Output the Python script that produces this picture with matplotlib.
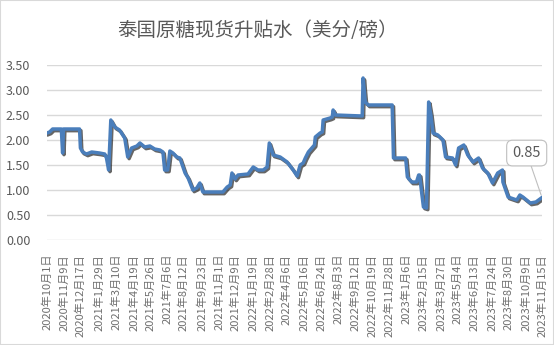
import numpy as np
import pandas as pd
import matplotlib
matplotlib.use("Agg")
import matplotlib.pyplot as plt
import matplotlib.patheffects as pe
from matplotlib.patches import Rectangle

plt.rcParams['font.family'] = ['Noto Sans CJK SC', 'DejaVu Sans']

# readings of the premium line (US cents / lb)
dates = [
    "2020-10-01", "2020-10-07", "2020-10-14", "2020-11-03", "2020-11-06", "2020-11-08",
    "2020-12-15", "2020-12-17", "2020-12-22", "2020-12-31", "2021-01-12", "2021-01-30",
    "2021-02-11", "2021-02-15", "2021-02-20", "2021-02-25", "2021-03-06", "2021-03-17",
    "2021-03-29", "2021-04-05", "2021-04-14", "2021-04-26", "2021-05-03", "2021-05-14",
    "2021-05-26", "2021-06-06", "2021-06-18", "2021-06-25", "2021-06-29", "2021-07-06",
    "2021-07-11", "2021-07-18", "2021-07-27", "2021-08-03", "2021-08-15", "2021-08-22",
    "2021-09-02", "2021-09-11", "2021-09-18", "2021-09-25", "2021-11-10", "2021-11-20",
    "2021-11-27", "2021-12-01", "2021-12-08", "2021-12-15", "2022-01-07", "2022-01-19",
    "2022-01-30", "2022-02-11", "2022-02-20", "2022-02-25", "2022-03-06", "2022-03-22",
    "2022-04-07", "2022-04-21", "2022-04-30", "2022-05-07", "2022-05-14", "2022-05-19",
    "2022-05-26", "2022-05-30", "2022-06-09", "2022-06-11", "2022-06-22", "2022-06-27",
    "2022-06-29", "2022-07-15", "2022-07-20", "2022-07-22", "2022-07-27", "2022-09-27",
    "2022-09-29", "2022-10-04", "2022-10-11", "2022-12-05", "2022-12-08", "2023-01-05",
    "2023-01-09", "2023-01-19", "2023-01-30", "2023-02-04", "2023-02-06", "2023-02-11",
    "2023-02-15", "2023-02-22", "2023-02-27", "2023-03-04", "2023-03-09", "2023-03-20",
    "2023-04-01", "2023-04-07", "2023-04-23", "2023-04-30", "2023-05-07", "2023-05-19",
    "2023-05-28", "2023-06-09", "2023-06-22", "2023-07-01", "2023-07-13", "2023-07-24",
    "2023-08-05", "2023-08-16", "2023-08-17", "2023-08-29", "2023-09-18", "2023-09-25",
    "2023-10-02", "2023-10-19", "2023-11-01", "2023-11-15",
]
values = [
    2.14, 2.16, 2.22, 2.22, 1.74, 2.22,
    2.22, 1.84, 1.76, 1.72, 1.76, 1.74,
    1.72, 1.64, 1.40, 2.40, 2.26, 2.20,
    2.04, 1.66, 1.84, 1.88, 1.94, 1.86,
    1.88, 1.82, 1.80, 1.76, 1.40, 1.40,
    1.78, 1.74, 1.66, 1.64, 1.34, 1.24,
    1.00, 1.04, 1.14, 0.96, 0.96, 1.06,
    1.10, 1.34, 1.22, 1.30, 1.32, 1.46,
    1.40, 1.40, 1.46, 1.94, 1.70, 1.66,
    1.56, 1.40, 1.28, 1.50, 1.54, 1.64,
    1.76, 1.80, 1.90, 2.06, 2.14, 2.16,
    2.40, 2.44, 2.46, 2.60, 2.50, 2.48,
    3.24, 2.76, 2.70, 2.70, 1.64, 1.64,
    1.26, 1.16, 1.16, 1.30, 1.30, 0.94,
    0.66, 0.64, 2.76, 2.50, 2.14, 2.10,
    2.00, 1.66, 1.64, 1.50, 1.84, 1.90,
    1.70, 1.56, 1.64, 1.44, 1.34, 1.14,
    1.34, 1.40, 1.16, 0.86, 0.80, 0.90,
    0.86, 0.74, 0.76, 0.85,
]

tick_dates = [
    "2020-10-01", "2020-11-09", "2020-12-17", "2021-01-29", "2021-03-10", "2021-04-19",
    "2021-05-26", "2021-07-06", "2021-08-12", "2021-09-23", "2021-11-01", "2021-12-09",
    "2022-01-19", "2022-02-28", "2022-04-06", "2022-05-16", "2022-06-24", "2022-08-03",
    "2022-09-12", "2022-10-19", "2022-11-28", "2023-01-06", "2023-02-15", "2023-03-27",
    "2023-05-04", "2023-06-13", "2023-07-24", "2023-08-30", "2023-10-09", "2023-11-15",
]
yticks = [0, 0.5, 1.0, 1.5, 2.0, 2.5, 3.0, 3.5]
title = "泰国原糖现货升贴水（美分/磅）"

x = pd.to_datetime(dates)
ticks = pd.to_datetime(tick_dates)
tick_labels = [f"{t.year}年{t.month}月{t.day}日" for t in ticks]

fig = plt.figure(figsize=(5.54, 3.45), dpi=100)
ax = fig.add_axes([0.0848, 0.3043, 0.8935, 0.5073])

grey = "#595959"
ax.plot(x, values, color="#4a7ebb", lw=2.5, solid_joinstyle="round", zorder=3,
        path_effects=[pe.SimpleLineShadow(offset=(1.0, -1.2), shadow_color="black", alpha=0.6),
                      pe.Normal()])

ax.set_ylim(0, 3.5)
ax.set_yticks(yticks)
ax.set_yticklabels([f"{v:.2f}" for v in yticks])
ax.set_xlim(x[0], x[-1])
ax.set_xticks(ticks)
ax.set_xticklabels(tick_labels, rotation=90)

ax.grid(axis="y", color="#d9d9d9", lw=1)
ax.set_axisbelow(True)
for s in ax.spines.values():
    s.set_visible(False)
ax.tick_params(length=0, colors=grey, labelsize=8)
ax.tick_params(axis="y", pad=12, labelsize=9)
ax.tick_params(axis="x", pad=10)
for lab in ax.get_xticklabels():
    lab.set_color("#6f6f6f")

fig.text(0.465, 0.912, title, ha="center", va="center", fontsize=14, color=grey)

ax.annotate(f"{values[-1]:.2f}", xy=(x[-1], values[-1]), xytext=(-11, 32),
            textcoords="offset points", ha="center", va="center", fontsize=10.5, color=grey,
            bbox=dict(boxstyle="round,pad=0.4", fc="white", ec="#bfbfbf", lw=0.8),
            arrowprops=dict(arrowstyle="-", color="#bfbfbf", lw=0.8, shrinkA=0, shrinkB=2),
            zorder=5)

fig.patches.append(Rectangle((0, 0), 1, 1, transform=fig.transFigure, fill=False,
                             ec="#d9d9d9", lw=1.5))

fig.savefig("out.png", dpi=100)
